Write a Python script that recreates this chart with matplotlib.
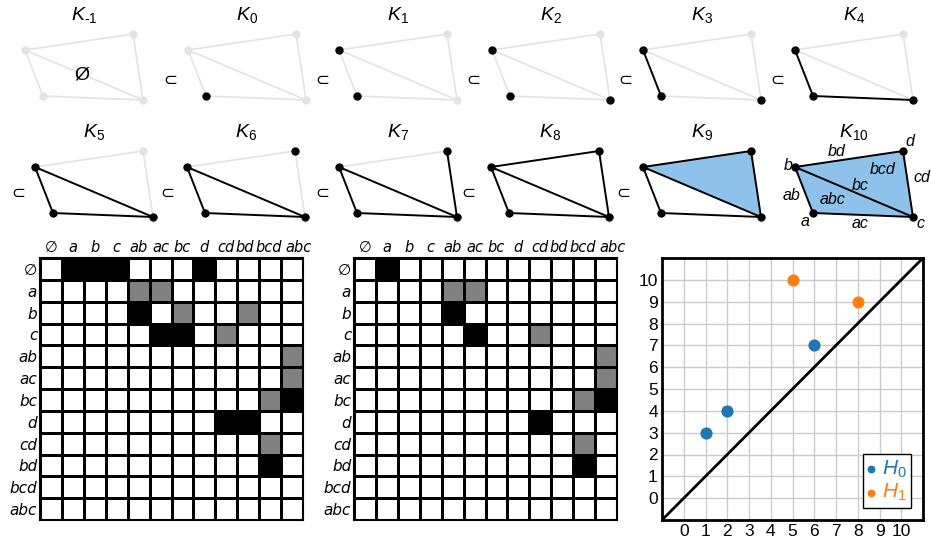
import numpy as np
import matplotlib
matplotlib.use("Agg")
import matplotlib.pyplot as plt
from matplotlib.colors import ListedColormap
from matplotlib.transforms import ScaledTranslation

plt.rcParams['mathtext.fontset'] = 'custom'
plt.rcParams['mathtext.rm'] = 'Liberation Sans'
plt.rcParams['mathtext.it'] = 'Liberation Sans:italic'

# simplicial complex geometry (pixel units, y pointing down, relative to vertex b)
vertices = {"a": (18, 46), "b": (0, 0), "c": (118, 50), "d": (108, -16)}
edges = ["ab", "ac", "bc", "cd", "bd"]
triangles = ["abc", "bcd"]
# filtration order: K_i contains the first i+1 simplices
filtration = ["a", "b", "c", "ab", "ac", "bc", "d", "cd", "bd", "bcd", "abc"]

# boundary matrix labels and values (0 empty, 1 grey, 2 black)
labels = ["∅", "a", "b", "c", "ab", "ac", "bc", "d", "cd", "bd", "bcd", "abc"]
boundary = ["022200020000", "000011000000", "000020100100", "000002201000",
            "000000000001", "000000000001", "000000000012", "000000002200",
            "000000000010", "000000000020", "000000000000", "000000000000"]
reduced = ["020000000000", "000011000000", "000020000000", "000002001000",
           "000000000001", "000000000001", "000000000012", "000000002000",
           "000000000010", "000000000020", "000000000000", "000000000000"]

# persistence diagram
h0_birth = [1, 2, 6]
h0_death = [3, 4, 7]
h1_birth = [5, 8]
h1_death = [10, 9]

# K_10 annotations (offset from vertex b, pixels)
annot = {"b": (-7, -2), "d": (115, -25), "bd": (42, -15), "bcd": (88, 3), "cd": (127, 11),
         "bc": (65, 18), "ab": (-3, 28), "abc": (38, 33), "a": (10, 55), "ac": (65, 56),
         "c": (125, 56)}

grey = "#e3e3e3"
blue = "#8ec2ea"

fig = plt.figure(figsize=(9.31, 5.50), dpi=100)

# overlay for the filtration drawings
ax0 = fig.add_axes([0, 0, 1, 1])
ax0.set_xlim(0, 931)
ax0.set_ylim(550, 0)
ax0.set_facecolor("none")
ax0.axis("off")

origins = [(25, 50), (188, 50), (339, 50), (492, 50), (643, 50), (795, 50),
           (35, 167), (187, 167), (339, 167), (491, 167), (643, 167), (795, 167)]
subsets = [(170, 80), (322, 80), (473, 80), (625, 80), (777, 80),
           (18, 193), (167, 193), (322, 193), (468, 193), (623, 193)]

for k, (ox, oy) in enumerate(origins):
    present = set(filtration[:k])
    px = {v: (ox + x, oy + y) for v, (x, y) in vertices.items()}
    for t in triangles:
        if t in present:
            pts = [px[v] for v in t]
            ax0.fill([p[0] for p in pts], [p[1] for p in pts], color=blue, lw=0, zorder=1)
    for e in edges:
        p, q = px[e[0]], px[e[1]]
        col, lw = ("black", 1.4) if e in present else (grey, 1.2)
        ax0.plot([p[0], q[0]], [p[1], q[1]], color=col, lw=lw, zorder=2 if e in present else 1.5)
    for v in vertices:
        col = "black" if v in present else grey
        ax0.plot(*px[v], "o", color=col, ms=5, zorder=3)
    title = r"$K_{\text{-1}}$" if k == 0 else r"$K_{%d}$" % (k - 1)
    ax0.text(ox + 59, oy - 35, title, fontsize=14, ha="center", va="center")
    if k == 0:
        ax0.text(ox + 57, oy + 25, "Ø", fontsize=14, ha="center", va="center",
                 family="Liberation Sans")
    if k == 11:
        for name, (dx, dy) in annot.items():
            ax0.text(ox + dx, oy + dy, name, fontsize=11.5, ha="center", va="center",
                     family="Liberation Sans", style="italic")

for sx, sy in subsets:
    ax0.text(sx, sy, "⊂", fontsize=12, ha="center", va="center", family="DejaVu Sans")

# matrices
cmap = ListedColormap(["white", "#808080", "black"])
nudge = {"bd": -3, "bcd": -1, "abc": 6}
for left, mat in [(40, boundary), (354, reduced)]:
    ax = fig.add_axes([left / 931, 30 / 550, 263 / 931, 262 / 550])
    vals = np.array([[int(ch) for ch in row] for row in mat])
    n = len(labels)
    ax.pcolormesh(np.arange(n + 1), np.arange(n + 1), vals, cmap=cmap, vmin=0, vmax=2,
                  edgecolors="black", linewidth=0.9)
    ax.set_xlim(0, n)
    ax.set_ylim(n, 0)
    ax.xaxis.tick_top()
    ax.set_xticks(np.arange(n) + 0.5)
    ax.set_yticks(np.arange(n) + 0.5)
    ax.set_xticklabels(labels, fontsize=10.5, style="italic", family="DejaVu Sans")
    ax.set_yticklabels(labels, fontsize=11, style="italic", family="DejaVu Sans")
    ax.tick_params(length=0, pad=2)
    for lab in ax.get_xticklabels():
        dx = nudge.get(lab.get_text(), 0)
        if dx:
            lab.set_transform(lab.get_transform() + ScaledTranslation(dx / 100, 0, fig.dpi_scale_trans))
    for s in ax.spines.values():
        s.set_linewidth(1.5)

# persistence diagram
ax = fig.add_axes([662 / 931, 30 / 550, 261 / 931, 262 / 550])
ax.set_xlim(-1, 11)
ax.set_ylim(-1, 11)
ax.set_xticks(range(-1, 12))
ax.set_yticks(range(-1, 12))
ax.set_xticklabels([""] + [str(i) for i in range(11)] + [""])
ax.set_yticklabels([""] + [str(i) for i in range(11)] + [""])
ax.tick_params(length=0, labelsize=12.5, pad=3)
for lab in ax.get_xticklabels() + ax.get_yticklabels():
    lab.set_family("Liberation Sans")
ax.grid(color="#cccccc", lw=1)
ax.set_axisbelow(True)
ax.axline((0, 0), slope=1, color="black", lw=2, zorder=2)
ax.scatter(h0_birth, h0_death, s=60, color="#1f77b4", zorder=3, label="$H_0$")
ax.scatter(h1_birth, h1_death, s=60, color="#ff7f0e", zorder=3, label="$H_1$")
for s in ax.spines.values():
    s.set_linewidth(2)
leg = ax.legend(loc="lower right", fontsize=15, handlelength=0.4, handletextpad=0.3,
                borderpad=0.2, labelspacing=0.1, borderaxespad=0.6, fancybox=False,
                markerscale=0.6, framealpha=1)
leg.get_frame().set_edgecolor("black")
leg.get_frame().set_linewidth(1)
for txt, col in zip(leg.get_texts(), ["#1f77b4", "#ff7f0e"]):
    txt.set_color(col)

fig.savefig("out.png", dpi=100)
